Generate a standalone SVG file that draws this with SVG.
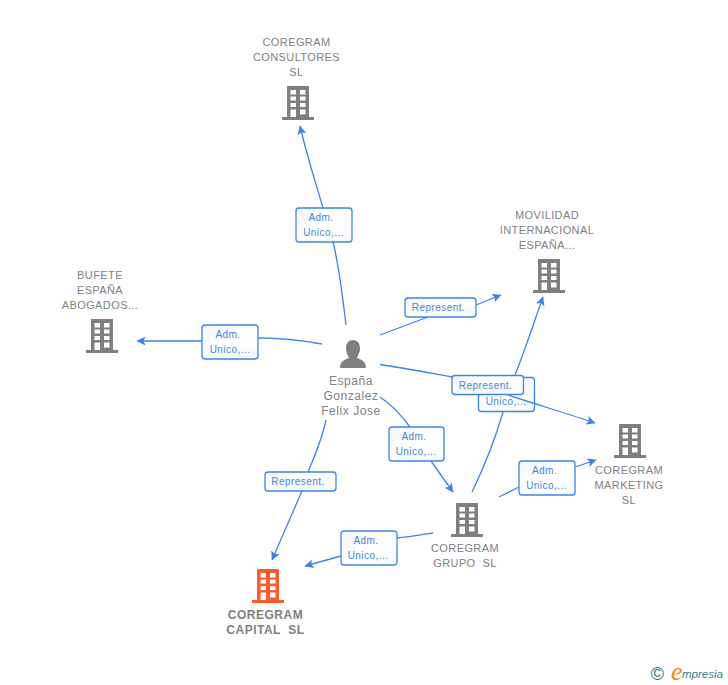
<svg xmlns="http://www.w3.org/2000/svg" width="728" height="685" viewBox="0 0 728 685">
<style>
.n{font:11px "Liberation Sans",Arial,sans-serif;fill:#808080;text-anchor:middle;letter-spacing:.4px}
.b{font-weight:bold;font-size:12px;letter-spacing:.5px}
.p{font-size:12px;letter-spacing:.55px}
.l{font:10px "Liberation Sans",Arial,sans-serif;fill:#3d85e0;text-anchor:middle;letter-spacing:.45px}
.c{fill:none;stroke:#3d85e0;stroke-width:1.3;marker-end:url(#a)}
.c0{fill:none;stroke:#3d85e0;stroke-width:1.3}
.r{fill:url(#g);stroke:#3d85e0;stroke-width:1.3}
</style>
<defs>
<linearGradient id="g" x1="0" y1="0" x2="1" y2="1"><stop offset="0" stop-color="#f2f6fc"/><stop offset=".5" stop-color="#fff"/><stop offset="1" stop-color="#f6f8fc"/></linearGradient>
<marker id="a" markerWidth="10" markerHeight="10" refX="8.500" refY="4.500" orient="auto" markerUnits="userSpaceOnUse"><path d="M0 0L9 4.500L0 9L2 4.500Z" fill="#3d85e0"/></marker>
<path id="bld" fill-rule="evenodd" d="M-11 0H11V31H16V34H-16V31H-11ZM-7.500 4V8.500H-2V4ZM2 4V8.500H7.500V4ZM-7.500 10.500V14.500H-2V10.500ZM2 10.500V14.500H7.500V10.500ZM-7.500 17V21H-2V17ZM2 17V21H7.500V17ZM-7.500 23.500V31H-2V23.500ZM2 23.500V28.500H7.500V23.500Z"/>
</defs>
<g id="l4"><rect class="r" x="478.500" y="377.500" width="56" height="34" rx="3"/><text class="l" x="506" y="405">Unico,...</text></g>
<g id="connectors">
<path class="c" d="M323 208C318 190 308 160 300 126"/>
<path class="c0" d="M346 325C343 300 339 265 333 242"/>
<path class="c0" d="M380 335L428 317"/><path class="c" d="M476 305L501 295"/>
<path class="c0" d="M322 344C300 340 280 338 258 338"/><path class="c" d="M202 341C180 341 160 341 137 341"/>
<path class="c0" d="M380 364.500C410 369 430 373 452 377"/><path class="c" d="M505 394C535 404 565 413 595 423"/>
<path class="c0" d="M380 397C392 405 402 416 410 427"/><path class="c" d="M431 461L453 492"/>
<path class="c0" d="M326 420C322 440 315 455 308 472"/><path class="c" d="M302 491L272 560"/>
<path class="c0" d="M472 492C485 465 495 440 503 412"/><path class="c" d="M515 375C525 350 533 325 543 297"/>
<path class="c0" d="M499 497L519 487"/><path class="c" d="M575 467L596 460"/>
<path class="c0" d="M433 533C420 535 408 537 397 538"/><path class="c" d="M341 556L305 566"/>
</g>
<g id="n1"><use href="#bld" x="298" y="86" fill="#7f7f7f"/><text class="n"><tspan x="296.500" y="46">COREGRAM</tspan><tspan x="296.500" y="61">CONSULTORES</tspan><tspan x="296.500" y="76">SL</tspan></text></g>
<g id="n2"><use href="#bld" x="549" y="259" fill="#7f7f7f"/><text class="n"><tspan x="547" y="219">MOVILIDAD</tspan><tspan x="547" y="234">INTERNACIONAL</tspan><tspan x="547" y="249">ESPAÑA...</tspan></text></g>
<g id="n3"><use href="#bld" x="102" y="319" fill="#7f7f7f"/><text class="n"><tspan x="100" y="279">BUFETE</tspan><tspan x="100" y="294">ESPAÑA</tspan><tspan x="100" y="309">ABOGADOS...</tspan></text></g>
<g id="n4"><use href="#bld" x="630" y="424" fill="#7f7f7f"/><text class="n"><tspan x="629" y="474">COREGRAM</tspan><tspan x="629" y="489">MARKETING</tspan><tspan x="629" y="504">SL</tspan></text></g>
<g id="n5"><use href="#bld" x="467" y="503" fill="#7f7f7f"/><text class="n"><tspan x="465" y="552">COREGRAM</tspan><tspan x="465" y="567" xml:space="preserve">GRUPO  SL</tspan></text></g>
<g id="n6"><use href="#bld" x="268" y="569" fill="#ff5a2b"/><text class="n b"><tspan x="265.500" y="619">COREGRAM</tspan><tspan x="265.500" y="634" xml:space="preserve">CAPITAL  SL</tspan></text></g>
<g id="person"><path fill="#7f7f7f" d="M340 368C340 361 345 359.500 349 358C348 355 346 353 346 348C346 343 349 340 353 340C357 340 360 343 360 348C360 353 358 355 357 358C361 359.500 366 361 366 368Z"/><text class="n p"><tspan x="351" y="385">España</tspan><tspan x="351" y="400">Gonzalez</tspan><tspan x="351" y="415">Felix Jose</tspan></text></g>
<g id="l1"><rect class="r" x="296" y="208" width="56" height="34" rx="3"/><text class="l"><tspan x="321" y="221">Adm.</tspan><tspan x="323.500" y="236">Unico,...</tspan></text></g>
<g id="l2"><rect class="r" x="405" y="298" width="71" height="19" rx="3"/><text class="l" x="438.500" y="311">Represent.</text></g>
<g id="l3"><rect class="r" x="202" y="325" width="56" height="34" rx="3"/><text class="l"><tspan x="228" y="338">Adm.</tspan><tspan x="230" y="353">Unico,...</tspan></text></g>
<g id="l5"><rect class="r" x="452" y="375.500" width="71.500" height="19" rx="3"/><text class="l" x="485.500" y="389">Represent.</text></g>
<g id="l6"><rect class="r" x="389" y="427" width="55" height="34" rx="3"/><text class="l"><tspan x="414" y="440">Adm.</tspan><tspan x="416" y="455">Unico,...</tspan></text></g>
<g id="l7"><rect class="r" x="265" y="472" width="71" height="19" rx="3"/><text class="l" x="298" y="485">Represent.</text></g>
<g id="l8"><rect class="r" x="519" y="461" width="56" height="34" rx="3"/><text class="l"><tspan x="544.500" y="474">Adm.</tspan><tspan x="546.500" y="489">Unico,...</tspan></text></g>
<g id="l9"><rect class="r" x="341" y="531" width="56" height="34" rx="3"/><text class="l"><tspan x="366" y="544">Adm.</tspan><tspan x="368" y="559">Unico,...</tspan></text></g>
<g id="logo"><text x="657.500" y="680" font-family="Liberation Sans,sans-serif" font-size="18" fill="#2f6f86" text-anchor="middle">©</text><text x="671" y="680" font-family="Liberation Serif,serif" font-style="italic" font-size="26" fill="#f08a20">e</text><text x="682" y="678" font-family="Liberation Sans,sans-serif" font-style="italic" font-size="11.500" fill="#2f7f8a">mpresia</text></g>
</svg>
